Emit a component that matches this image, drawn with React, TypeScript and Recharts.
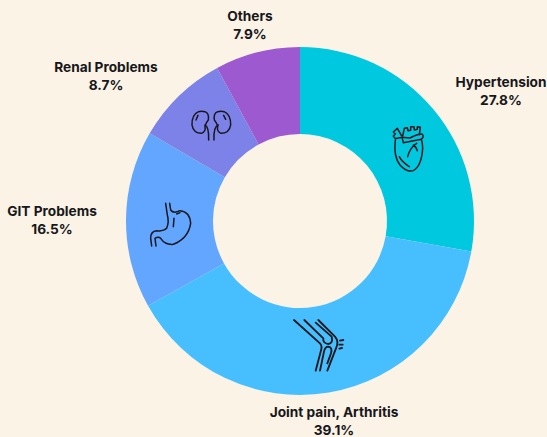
import { PieChart, Pie, Cell } from 'recharts'

const names = ['Hypertension', 'Joint pain, Arthritis', 'GIT Problems', 'Renal Problems', 'Others']
const shares = [27.8, 39.1, 16.5, 8.7, 7.9]
const colors = ['#00c8de', '#47bfff', '#62a6ff', '#7d82e8', '#9c59d0']
// label centre relative to the pie centre
const labelOffsets = [[201, -130], [34, 200], [-248, -1], [-194, -145], [-50, -196]]

const data = names.map((name, i) => ({ name, value: shares[i] }))
const bg = '#fbf3e5'
const ink = '#17171c'

function renderLabel(props: any) {
  const { cx, cy, index, name, value } = props
  const [dx, dy] = labelOffsets[index]
  return (
    <text x={cx + dx} y={cy + dy} textAnchor="middle" fill={ink} style={{ fontFamily: 'Inter', fontWeight: 700, fontSize: 13.7 }}>
      <tspan x={cx + dx} dy={-4}>{name}</tspan>
      <tspan x={cx + dx} dy={18}>{value.toFixed(1)}%</tspan>
    </text>
  )
}

// icons traced at 3x, so each group scales down by a third
function Icons() {
  return (
    <svg width={547} height={437} style={{ position: 'absolute', left: 0, top: 0, pointerEvents: 'none' }}>
      <g fill="none" stroke={ink} strokeWidth={4.5} strokeLinecap="round" strokeLinejoin="round">
        <g transform="translate(360 60) scale(0.3333)">
          <path d="M106 240 Q100 290 120 315 Q140 338 160 332 Q185 318 188 265 Q188 250 184 238" />
          <path d="M128 228 L133 205 L142 203 L144 212 L152 211 L152 200 L162 200 L163 210 L172 208 L172 200 L181 202 L178 224" />
          <path d="M126 232 L130 248 L184 238 Q194 228 186 222 Q172 222 150 234 L126 232" />
          <path d="M124 226 L112 205 L100 216 L106 222 L100 228 L106 236 L126 232" />
          <path d="M143 290 Q150 262 170 250 M172 272 Q168 260 160 255 M118 290 Q125 305 148 320" />
        </g>
        <g transform="translate(270 300) scale(0.3333)" strokeWidth={5.5}>
          <path d="M72 60 L150 130 Q158 138 152 155 L137 212" />
          <path d="M103 60 L160 115 Q158 130 175 132 Q190 130 185 110 L137 68" />
          <path d="M145 60 L195 110 Q208 125 198 145 L172 212" />
          <path d="M150 212 L162 155 Q165 140 175 140 Q188 142 183 160 L172 190" />
          <path d="M210 122 L220 120 M208 134 L218 134 M208 146 L216 144" />
        </g>
        <g transform="translate(130 90) scale(0.3333)">
          <path d="M119 340 L122 360 Q130 372 150 362 Q180 365 182 400 Q175 445 130 463 Q105 465 92 445 Q85 438 75 445 L78 468" />
          <path d="M107 340 L112 375 Q118 395 110 415 Q100 425 80 422 Q62 423 62 445 L65 468" />
          <path d="M132 385 L130 410 M150 368 L140 372" />
          <path d="M205 65 Q185 75 186 105 Q190 130 215 130 Q228 125 225 108 Q230 95 235 90 Q238 70 225 65 Q215 62 205 65" />
          <path d="M283 65 Q303 75 302 105 Q298 130 273 130 Q260 125 263 108 Q258 95 253 90 Q250 70 263 65 Q273 62 283 65" />
          <path d="M225 105 Q237 110 236 150 M252 150 Q250 110 265 105 M198 90 L204 76 M281 76 L287 88" />
        </g>
      </g>
    </svg>
  )
}

export default function App() {
  return (
    <div style={{ position: 'absolute', left: 0, top: 0, width: 547, height: 437, background: bg, overflow: 'hidden' }}>
      <PieChart width={547} height={437} margin={{ top: 0, right: 0, bottom: 0, left: 0 }}>
        <Pie
          data={data}
          dataKey="value"
          nameKey="name"
          cx={300}
          cy={221}
          innerRadius={87}
          outerRadius={174}
          startAngle={90}
          endAngle={-270}
          stroke="none"
          label={renderLabel}
          labelLine={false}
          isAnimationActive={false}
        >
          {colors.map(c => <Cell key={c} fill={c} />)}
        </Pie>
      </PieChart>
      <Icons />
    </div>
  )
}
